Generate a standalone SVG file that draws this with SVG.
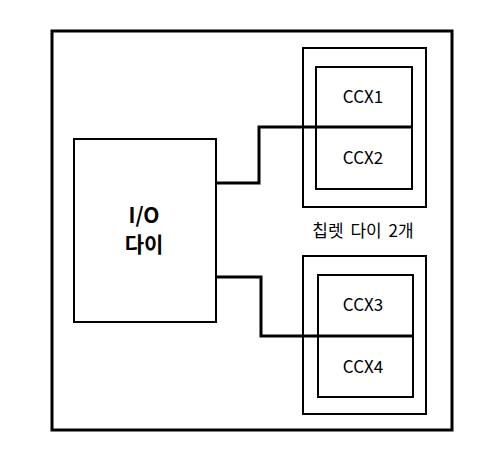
<svg xmlns="http://www.w3.org/2000/svg" width="500" height="473" viewBox="0 0 500 473">
<style>
.box{fill:#fff;stroke:#000;stroke-width:2}
.thick{fill:none;stroke:#000;stroke-width:3}
.wire{fill:none;stroke:#000;stroke-width:3;stroke-linejoin:miter}
.t{font-family:"Noto Sans CJK KR","Open Sans",sans-serif;font-size:17px;text-anchor:middle;fill:#000}
.b{font-family:"Noto Sans CJK KR","Noto Sans",sans-serif;font-size:21px;font-weight:bold;text-anchor:middle;fill:#000}
</style>
<rect width="500" height="473" fill="#fff"/>
<g id="package"><rect class="thick" x="52" y="31" width="400" height="399"/></g>
<g id="io-die">
<rect class="box" x="74" y="139" width="142" height="183"/>
<text class="b" x="144" y="223">I/O</text>
<text class="b" x="144" y="252">다이</text>
</g>
<g id="chiplet-top">
<rect class="box" x="303" y="48" width="123" height="159"/>
<rect class="box" x="316" y="67" width="96" height="122"/>
<text class="t" x="363" y="103">CCX1</text>
<text class="t" x="363" y="164">CCX2</text>
</g>
<g id="chiplet-label"><text class="t" x="363" y="237" word-spacing="3">칩렛 다이 2개</text></g>
<g id="chiplet-bottom">
<rect class="box" x="303" y="256" width="123" height="158"/>
<rect class="box" x="318" y="275" width="95" height="122"/>
<text class="t" x="363" y="311">CCX3</text>
<text class="t" x="363" y="373">CCX4</text>
</g>
<g id="connectors">
<polyline class="wire" points="216,183 259,183 259,127 412,127"/>
<polyline class="wire" points="216,277 261,277 261,336 413,336"/>
</g>
</svg>
